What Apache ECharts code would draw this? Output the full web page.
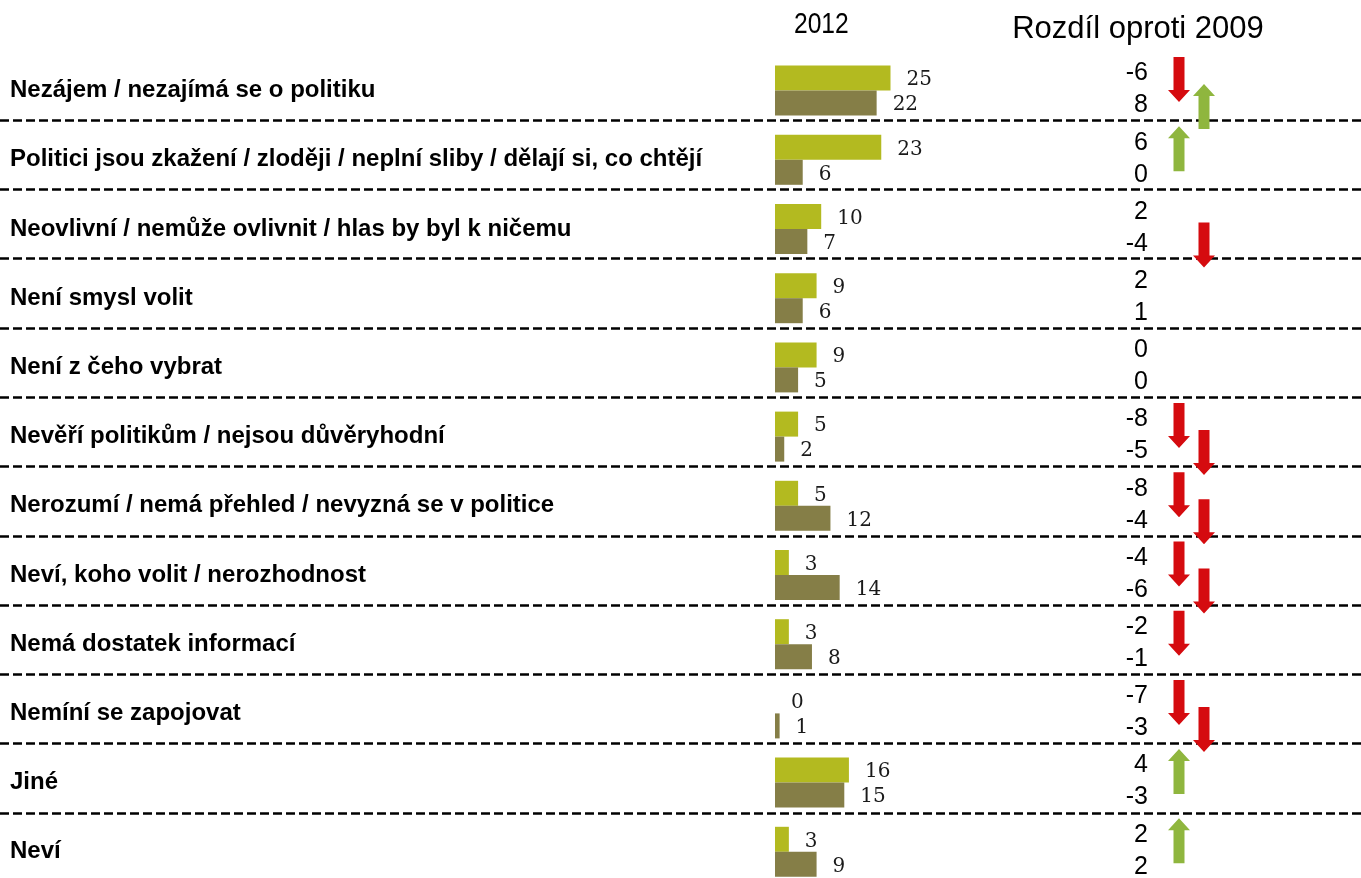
<!DOCTYPE html>
<html>
<head>
<meta charset="utf-8">
<script src="https://cdn.jsdelivr.net/npm/echarts@6/dist/echarts.min.js"></script>
<style>
  html, body { margin: 0; padding: 0; background: #fff; }
  #chart { width: 1361px; height: 878px; }
</style>
</head>
<body>
<div id="chart"></div>
<script>
// důvody nevolení
var categories = [
  "Nezájem / nezajímá se o politiku",
  "Politici jsou zkažení / zloději / neplní sliby / dělají si, co chtějí",
  "Neovlivní / nemůže ovlivnit / hlas by byl k ničemu",
  "Není smysl volit",
  "Není z čeho vybrat",
  "Nevěří politikům / nejsou důvěryhodní",
  "Nerozumí / nemá přehled / nevyzná se v politice",
  "Neví, koho volit / nerozhodnost",
  "Nemá dostatek informací",
  "Nemíní se zapojovat",
  "Jiné",
  "Neví"
];
var valuesA = [25, 23, 10, 9, 9, 5, 5, 3, 3, 0, 16, 3];
var valuesB = [22, 6, 7, 6, 5, 2, 12, 14, 8, 1, 15, 9];
// rozdíl oproti 2009
var diffA = [-6, 6, 2, 2, 0, -8, -8, -4, -2, -7, 4, 2];
var diffB = [8, 0, -4, 1, 0, -5, -4, -6, -1, -3, -3, 2];
// šipky: 1 = nahoru, -1 = dolů, 0 = nic
var arrowA = [-1, 1, 0, 0, 0, -1, -1, -1, -1, -1, 1, 1];
var arrowB = [1, 0, -1, 0, 0, -1, -1, -1, 0, -1, 0, 0];

var chart = echarts.init(document.getElementById("chart"));

var rowData = categories.map(function (c, i) { return [0, i]; });

function arrowShape(cx, cy, dir, color) {
  var len = 45, shaftW = 11, headW = 22, headL = 12;
  var top = cy - len / 2, bot = cy + len / 2;
  var pts;
  if (dir < 0) {
    pts = [
      [cx - shaftW / 2, top], [cx + shaftW / 2, top],
      [cx + shaftW / 2, bot - headL], [cx + headW / 2, bot - headL],
      [cx, bot], [cx - headW / 2, bot - headL],
      [cx - shaftW / 2, bot - headL]
    ];
  } else {
    pts = [
      [cx - shaftW / 2, bot], [cx + shaftW / 2, bot],
      [cx + shaftW / 2, top + headL], [cx + headW / 2, top + headL],
      [cx, top], [cx - headW / 2, top + headL],
      [cx - shaftW / 2, top + headL]
    ];
  }
  return { type: "polygon", shape: { points: pts }, style: { fill: color } };
}

var red = "#d50b0f";
var green = "#8fb63e";

var barLabel = {
  show: true,
  position: "right",
  distance: 16,
  offset: [0, 2],
  fontFamily: "DejaVu Serif",
  fontSize: 20,
  color: "#1a1a1a"
};

var option = {
  animation: false,
  backgroundColor: "#fff",
  title: [
    {
      text: "Rozdíl oproti 2009",
      left: 1133,
      top: 9,
      textAlign: "center",
      textStyle: { fontFamily: "Liberation Sans", fontSize: 31, fontWeight: "normal", color: "#000" }
    }
  ],
  // úzký nadpis 2012
  graphic: [
    {
      type: "text",
      left: 794,
      top: 10,
      scaleX: 0.82,
      style: {
        text: "2012",
        font: "30px 'Liberation Sans'",
        fill: "#000"
      }
    }
  ],
  grid: [
    // sloupce
    { left: 775, top: 56, width: 231, height: 830.4, outerBoundsMode: "none" },
    // oddělovače
    { left: 0, right: 0, top: 120, height: 693, outerBoundsMode: "none" },
    // rozdíly
    { left: 1100, top: 56, width: 150, height: 830.4, outerBoundsMode: "none" }
  ],
  xAxis: [
    { gridIndex: 0, type: "value", min: 0, max: 50, show: false },
    { gridIndex: 1, type: "value", min: 0, max: 1, show: false },
    { gridIndex: 2, type: "value", min: 0, max: 150, show: false }
  ],
  yAxis: [
    {
      gridIndex: 0,
      type: "category",
      inverse: true,
      data: categories,
      axisLine: { show: false },
      axisTick: { show: false },
      splitLine: { show: false },
      axisLabel: {
        show: true,
        align: "left",
        margin: 765,
        padding: [0, 0, 5, 0],
        fontFamily: "Liberation Sans",
        fontWeight: "bold",
        fontSize: 24,
        color: "#000"
      }
    },
    {
      gridIndex: 1,
      type: "value",
      inverse: true,
      min: 1,
      max: 11,
      interval: 1,
      axisLine: { show: false },
      axisTick: { show: false },
      axisLabel: { show: false },
      splitLine: {
        show: true,
        lineStyle: { color: "#000", width: 2.5, type: [9, 4] }
      }
    },
    {
      gridIndex: 2,
      type: "category",
      inverse: true,
      data: categories,
      show: false
    }
  ],
  series: [
    {
      name: "A",
      type: "bar",
      xAxisIndex: 0,
      yAxisIndex: 0,
      barWidth: 25,
      barGap: "0%",
      data: valuesA,
      itemStyle: { color: "#b3ba20" },
      label: barLabel
    },
    {
      name: "B",
      type: "bar",
      xAxisIndex: 0,
      yAxisIndex: 0,
      barWidth: 25,
      barGap: "0%",
      data: valuesB,
      itemStyle: { color: "#857e47" },
      label: barLabel
    },
    {
      type: "line",
      xAxisIndex: 1,
      yAxisIndex: 1,
      data: [],
      silent: true
    },
    {
      type: "custom",
      xAxisIndex: 2,
      yAxisIndex: 2,
      data: rowData,
      encode: { x: 0, y: 1 },
      renderItem: function (params, api) {
        var i = params.dataIndex;
        var cy = api.coord([0, i])[1];
        var numX = api.coord([48, i])[0];
        var arrX1 = api.coord([79, i])[0];
        var arrX2 = api.coord([104, i])[0];
        var children = [
          {
            type: "text",
            style: {
              text: String(diffA[i]), x: numX, y: cy - 17,
              align: "right", verticalAlign: "middle",
              fontFamily: "Liberation Sans", fontSize: 25, fill: "#000"
            }
          },
          {
            type: "text",
            style: {
              text: String(diffB[i]), x: numX, y: cy + 15,
              align: "right", verticalAlign: "middle",
              fontFamily: "Liberation Sans", fontSize: 25, fill: "#000"
            }
          }
        ];
        if (arrowA[i] !== 0) {
          children.push(arrowShape(arrX1, cy - 11, arrowA[i], arrowA[i] > 0 ? green : red));
        }
        if (arrowB[i] !== 0) {
          children.push(arrowShape(arrX2, cy + 16, arrowB[i], arrowB[i] > 0 ? green : red));
        }
        return { type: "group", children: children };
      }
    }
  ]
};

chart.setOption(option);
window.addEventListener("resize", function () {
  chart.resize();
});
</script>
</body>
</html>
